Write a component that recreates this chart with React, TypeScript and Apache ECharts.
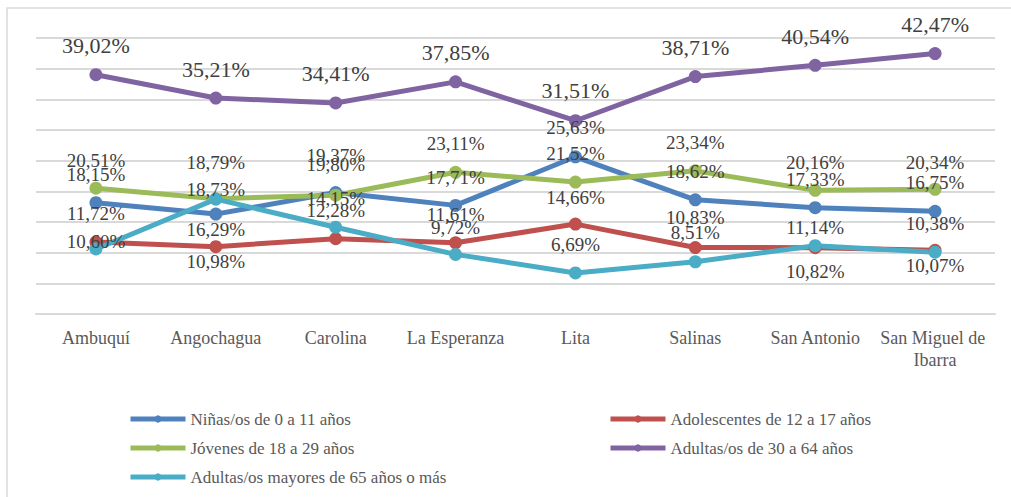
import React, { useEffect, useRef } from "react";
import * as echarts from "echarts";

const categories = [
  "Ambuquí",
  "Angochagua",
  "Carolina",
  "La Esperanza",
  "Lita",
  "Salinas",
  "San Antonio",
  "San Miguel de Ibarra",
];

const seriesNames = [
  "Niñas/os de 0 a 11 años",
  "Adolescentes de 12 a 17 años",
  "Jóvenes de 18 a 29 años",
  "Adultas/os de 30 a 64 años",
  "Adultas/os mayores de 65 años o más",
];

const ninas = [18.15, 16.29, 19.8, 17.71, 25.63, 18.62, 17.33, 16.75];
const adolescentes = [11.72, 10.98, 12.28, 11.61, 14.66, 10.83, 10.82, 10.38];
const jovenes = [20.51, 18.79, 19.37, 23.11, 21.52, 23.34, 20.16, 20.34];
const adultas = [39.02, 35.21, 34.41, 37.85, 31.51, 38.71, 40.54, 42.47];
const mayores = [10.6, 18.73, 14.15, 9.72, 6.69, 8.51, 11.14, 10.07];

const yTicks = { min: 0, max: 45, interval: 5 };

// label vertical offsets (px) relative to the point, per series
const labelOffsets = [
  [-28, 15, -28, -28, -29, -28, -28, -29],
  [-29, 15, -28, -28, -27, -30, 24, -27],
  [-28, -36, -40, -29, -29, -28, -28, -27],
  [-29, -29, -29, -29, -30, -29, -29, -29],
  [-7, -10, -29, -27, -28, -29, -18, 13],
];

const colors = ["#4F81BD", "#C0504D", "#9BBB59", "#8064A2", "#4BACC6"];
const FONT = "Liberation Serif";

export default function App() {
  const ref = useRef<HTMLDivElement>(null);

  useEffect(() => {
    document.body.style.margin = "0";
    if (!ref.current) return;
    const chart = echarts.init(ref.current, null, { renderer: "svg" });
    const values = [ninas, adolescentes, jovenes, adultas, mayores];
    const fmt = (p: any) => {
      const v = typeof p.value === "number" ? p.value : p.data.value;
      return v.toFixed(2).replace(".", ",") + "%";
    };
    const series = values.map((vals, si) => ({
      name: seriesNames[si],
      type: "line",
      data: vals.map((v, i) => ({ value: v, label: { offset: [0, labelOffsets[si][i]] } })),
      symbol: "circle",
      symbolSize: 13,
      lineStyle: { width: 5, color: colors[si] },
      itemStyle: { color: colors[si] },
      emphasis: { disabled: true },
      label: {
        show: true,
        position: "inside",
        formatter: fmt,
        color: "#404040",
        fontFamily: FONT,
        fontSize: si === 3 ? 22 : 19,
      },
    }));
    const legendText = { fontFamily: FONT, fontSize: 17, color: "#595959", lineHeight: 20 };
    const legendCommon = {
      orient: "vertical",
      top: 409,
      padding: 0,
      itemWidth: 55,
      itemHeight: 9,
      itemGap: 9,
      selectedMode: false,
      lineStyle: { width: 5 },
      formatter: "{t|{name}}",
      textStyle: { ...legendText, rich: { t: { ...legendText } } },
    };
    chart.setOption({
      animation: false,
      textStyle: { fontFamily: FONT },
      grid: { left: 36, right: 16, top: 38, bottom: 183 },
      xAxis: {
        type: "category",
        data: categories,
        boundaryGap: true,
        axisLine: { show: true, lineStyle: { color: "#d9d9d9", width: 2 } },
        axisTick: { show: false },
        axisLabel: {
          interval: 0,
          color: "#595959",
          fontFamily: FONT,
          fontSize: 18,
          lineHeight: 22,
          margin: 13,
          width: 118,
          overflow: "break",
        },
      },
      yAxis: {
        type: "value",
        min: yTicks.min,
        max: yTicks.max,
        interval: yTicks.interval,
        axisLabel: { show: false },
        axisLine: { show: false },
        axisTick: { show: false },
        splitLine: { lineStyle: { color: "#d9d9d9", width: 2 } },
      },
      legend: [
        { ...legendCommon, left: 128, data: [seriesNames[0], seriesNames[2], seriesNames[4]] },
        { ...legendCommon, left: 608, data: [seriesNames[1], seriesNames[3]] },
      ],
      graphic: [
        {
          type: "rect",
          silent: true,
          shape: { x: 7, y: 8, width: 1100, height: 600 },
          style: { fill: "none", stroke: "#d9d9d9", lineWidth: 1.5 },
        },
      ],
      series,
    });
    return () => chart.dispose();
  }, []);

  return <div ref={ref} style={{ width: 1011, height: 497 }} />;
}
